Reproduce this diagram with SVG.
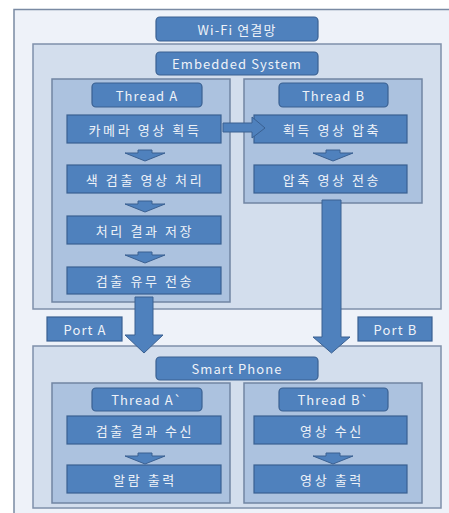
<svg xmlns="http://www.w3.org/2000/svg" width="449" height="513" viewBox="0 0 449 513">
<style>
.frame{fill:#eef2f9;stroke:#7a8aa3;stroke-width:1.5}
.sys{fill:#d3deed;stroke:#7f90aa;stroke-width:1.5}
.thr{fill:#acc2df;stroke:#7185a3;stroke-width:1.5}
.lbl{fill:#4f81bd;stroke:#3a6091;stroke-width:1.2}
.box{fill:#4f81bd;stroke:#3a6091;stroke-width:1.2}
.arr{fill:#4f81bd;stroke:#3a6091;stroke-width:1}
text{font-family:"Noto Sans CJK KR","Noto Sans","DejaVu Sans",sans-serif;font-size:13px;letter-spacing:1.1px;fill:#eef2f8;text-anchor:middle;dominant-baseline:central}
.k{letter-spacing:2.6px;font-size:13px}
</style>
<rect x="0" y="0" width="449" height="513" fill="#ffffff"/>
<rect class="frame" x="14" y="9.5" width="445" height="510"/>
<g id="wifi"><rect class="lbl" x="156" y="17" width="162" height="24" rx="4"/><text x="237" y="29">Wi-Fi 연결망</text></g>
<g id="embedded"><rect class="sys" x="33" y="44" width="408" height="265"/><rect class="lbl" x="156" y="52" width="162" height="23" rx="4"/><text x="237" y="63.5">Embedded System</text></g>
<g id="threadA"><rect class="thr" x="52" y="79" width="178" height="223"/><rect class="lbl" x="92" y="83" width="110" height="24" rx="4"/><text x="147" y="95">Thread A</text></g>
<g id="threadB"><rect class="thr" x="244" y="79" width="178" height="124"/><rect class="lbl" x="279" y="83" width="109" height="24" rx="4"/><text x="333.5" y="95">Thread B</text></g>
<g id="a1"><rect class="box" x="67" y="115" width="154" height="28"/><text class="k" x="145" y="129">카메라 영상 획득</text></g>
<g id="b1"><rect class="box" x="254" y="115" width="153" height="28"/><text class="k" x="332" y="129">획득 영상 압축</text></g>
<g id="a2"><rect class="box" x="67" y="165" width="154" height="28"/><text class="k" x="145" y="179">색 검출 영상 처리</text></g>
<g id="b2"><rect class="box" x="254" y="165" width="153" height="28"/><text class="k" x="332" y="179">압축 영상 전송</text></g>
<g id="a3"><rect class="box" x="67" y="216" width="154" height="28"/><text class="k" x="145" y="230">처리 결과 저장</text></g>
<g id="a4"><rect class="box" x="67" y="267" width="154" height="27"/><text class="k" x="145" y="280.5">검출 유무 전송</text></g>
<g id="smartphone"><rect class="sys" x="33" y="346" width="408" height="162"/><rect class="lbl" x="156" y="357" width="162" height="23" rx="4"/><text x="237" y="368.5">Smart Phone</text></g>
<g id="threadA2"><rect class="thr" x="52" y="383" width="178" height="120"/><rect class="lbl" x="92" y="388" width="110" height="23" rx="4"/><text x="147" y="399.5">Thread A`</text></g>
<g id="threadB2"><rect class="thr" x="244" y="383" width="178" height="120"/><rect class="lbl" x="279" y="388" width="109" height="23" rx="4"/><text x="333.5" y="399.5">Thread B`</text></g>
<g id="c1"><rect class="box" x="67" y="416" width="154" height="28"/><text class="k" x="145" y="430">검출 결과 수신</text></g>
<g id="c2"><rect class="box" x="67" y="465" width="154" height="28"/><text class="k" x="145" y="479">알람 출력</text></g>
<g id="d1"><rect class="box" x="254" y="416" width="153" height="28"/><text class="k" x="332" y="430">영상 수신</text></g>
<g id="d2"><rect class="box" x="254" y="465" width="153" height="28"/><text class="k" x="332" y="479">영상 출력</text></g>
<g id="portA"><rect class="box" x="47" y="317" width="75" height="24"/><text x="85" y="329">Port A</text></g>
<g id="portB"><rect class="box" x="358" y="317" width="74" height="24"/><text x="395.5" y="329">Port B</text></g>
<g id="connectors">
<polygon class="arr" points="223,123 252,123 252,117 265,128 252,138 252,132 223,132"/>
<polygon class="arr" points="138,150 152,150 152,153 165,153 145,161 125,153 138,153"/>
<polygon class="arr" points="138,201 152,201 152,204 165,204 145,212 125,204 138,204"/>
<polygon class="arr" points="138,252 152,252 152,255 165,255 145,263 125,255 138,255"/>
<polygon class="arr" points="138,453 152,453 152,456 165,456 145,464 125,456 138,456"/>
<polygon class="arr" points="326,150 340,150 340,153 353,153 333,161 313,153 326,153"/>
<polygon class="arr" points="326,453 340,453 340,456 353,456 333,464 313,456 326,456"/>
<polygon class="arr" points="135,297 153,297 153,335 163,335 144,353 125,335 135,335"/>
<polygon class="arr" points="322,200 341,200 341,337 350,337 331.5,353 313,337 322,337"/>
</g>
</svg>
